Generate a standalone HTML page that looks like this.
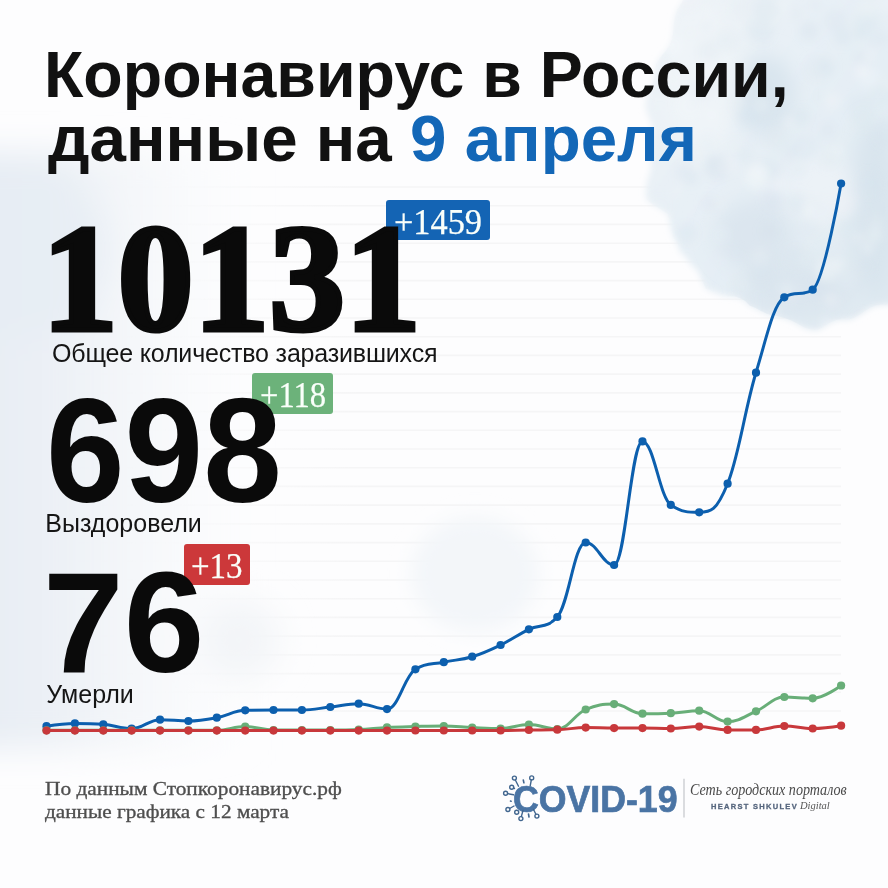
<!DOCTYPE html>
<html><head><meta charset="utf-8">
<style>
html,body{margin:0;padding:0;}
body{width:888px;height:888px;overflow:hidden;position:relative;background:#fdfdfe;font-family:"Liberation Sans",sans-serif;}
.abs{position:absolute;white-space:nowrap;}
.title{font-family:"Liberation Sans",sans-serif;font-weight:bold;font-size:65px;transform-origin:0 0;color:#111;line-height:1;}
.big{transform-origin:0 0;font-family:"Liberation Sans",sans-serif;font-weight:bold;color:#0a0a0a;line-height:1;}
.lbl{font-size:25px;color:#151515;line-height:1;}
.badge{color:#fff;border-radius:3px;}
.bt{position:absolute;font-family:"Liberation Serif",serif;font-size:35px;-webkit-text-stroke:0.25px #fafffa;transform:scaleX(0.96);transform-origin:0 0;line-height:1;color:#fafffa;}
.foot{font-family:"Liberation Serif",serif;font-size:18px;transform-origin:0 0;color:#4e4e4e;-webkit-text-stroke:0.3px #4e4e4e;line-height:1;}
</style></head><body>
<div class="abs" style="left:0;top:0;width:888px;height:888px;" id="bg"></div>
<svg width="888" height="888" style="position:absolute;left:0;top:0"><defs><linearGradient id="gg" gradientUnits="userSpaceOnUse" x1="170" y1="0" x2="360" y2="0"><stop offset="0" stop-color="#f3f3f4" stop-opacity="0.1"/><stop offset="1" stop-color="#f5f5f6"/></linearGradient></defs><g stroke="url(#gg)" stroke-width="1.6"><line x1="30" x2="841" y1="711.0" y2="711.0"/><line x1="30" x2="841" y1="692.3" y2="692.3"/><line x1="30" x2="841" y1="673.6" y2="673.6"/><line x1="30" x2="841" y1="654.9" y2="654.9"/><line x1="30" x2="841" y1="636.1" y2="636.1"/><line x1="30" x2="841" y1="617.4" y2="617.4"/><line x1="30" x2="841" y1="598.7" y2="598.7"/><line x1="30" x2="841" y1="580.0" y2="580.0"/><line x1="30" x2="841" y1="561.3" y2="561.3"/><line x1="30" x2="841" y1="542.6" y2="542.6"/><line x1="30" x2="841" y1="523.9" y2="523.9"/><line x1="30" x2="841" y1="505.1" y2="505.1"/><line x1="30" x2="841" y1="486.4" y2="486.4"/><line x1="30" x2="841" y1="467.7" y2="467.7"/><line x1="30" x2="841" y1="449.0" y2="449.0"/><line x1="30" x2="841" y1="430.3" y2="430.3"/><line x1="30" x2="841" y1="411.6" y2="411.6"/><line x1="30" x2="841" y1="392.9" y2="392.9"/><line x1="30" x2="841" y1="374.1" y2="374.1"/><line x1="30" x2="841" y1="355.4" y2="355.4"/><line x1="30" x2="841" y1="336.7" y2="336.7"/><line x1="30" x2="841" y1="318.0" y2="318.0"/><line x1="30" x2="841" y1="299.3" y2="299.3"/><line x1="30" x2="841" y1="280.6" y2="280.6"/><line x1="30" x2="841" y1="261.9" y2="261.9"/><line x1="30" x2="841" y1="243.2" y2="243.2"/><line x1="30" x2="841" y1="224.4" y2="224.4"/><line x1="30" x2="841" y1="205.7" y2="205.7"/><line x1="30" x2="841" y1="187.0" y2="187.0"/></g><defs>
<filter id="b1" x="-20%" y="-20%" width="140%" height="140%"><feGaussianBlur stdDeviation="3"/></filter>
<filter id="b2" x="-50%" y="-50%" width="200%" height="200%"><feGaussianBlur stdDeviation="16"/></filter>
<filter id="b3" x="-50%" y="-50%" width="200%" height="200%"><feGaussianBlur stdDeviation="10"/></filter>
<filter id="b4" x="-50%" y="-50%" width="200%" height="200%"><feGaussianBlur stdDeviation="4"/></filter>
<linearGradient id="cg" x1="0" y1="0" x2="1" y2="1"><stop offset="0" stop-color="#eff4f8"/><stop offset="0.5" stop-color="#e6eff5"/><stop offset="1" stop-color="#dfe9f1"/></linearGradient>
<clipPath id="cc"><path d="M689.0,-31.4 L687.3,-26.7 L686.3,-20.8 L685.8,-14.2 L685.4,-7.6 L684.6,-1.6 L681.0,3.9 L677.5,9.6 L675.0,16.2 L673.8,23.8 L673.3,31.8 L672.3,39.1 L670.3,44.9 L666.9,49.8 L662.7,54.4 L658.8,59.4 L655.8,64.9 L655.1,71.4 L654.2,77.8 L652.3,83.9 L649.6,89.9 L646.8,96.1 L645.3,102.6 L645.8,109.4 L648.3,116.2 L651.0,122.8 L652.6,129.1 L652.5,135.3 L651.4,141.6 L650.4,147.9 L650.2,154.2 L650.7,160.3 L650.8,166.5 L649.8,172.9 L647.3,179.9 L645.7,189.3 L645.8,198.3 L650.5,202.8 L656.5,206.6 L662.6,210.2 L668.0,214.0 L669.6,221.2 L670.7,228.6 L672.7,235.4 L675.5,240.7 L678.3,245.9 L679.9,252.0 L684.7,256.0 L688.7,261.2 L692.8,266.6 L697.9,270.9 L700.4,277.2 L703.3,282.8 L706.0,288.7 L712.8,291.4 L719.6,294.4 L726.9,296.3 L734.9,296.2 L740.3,298.3 L745.3,301.0 L749.6,305.5 L755.1,307.7 L760.5,310.8 L766.1,313.5 L772.0,315.3 L778.0,316.3 L784.7,317.9 L791.3,320.4 L798.0,324.1 L804.8,327.7 L811.7,329.8 L818.3,329.7 L824.5,325.9 L830.5,322.3 L836.5,320.0 L842.8,319.3 L849.3,319.4 L854.9,317.2 L860.2,314.2 L865.3,310.7 L870.5,307.5 L876.2,305.5 L882.5,304.7 L889.2,304.4 L896.0,303.0 L902.0,299.9 L906.9,295.2 L911.2,289.8 L910,-30 Z"/></clipPath>
</defs>
<g filter="url(#b1)"><path d="M689.0,-31.4 L687.3,-26.7 L686.3,-20.8 L685.8,-14.2 L685.4,-7.6 L684.6,-1.6 L681.0,3.9 L677.5,9.6 L675.0,16.2 L673.8,23.8 L673.3,31.8 L672.3,39.1 L670.3,44.9 L666.9,49.8 L662.7,54.4 L658.8,59.4 L655.8,64.9 L655.1,71.4 L654.2,77.8 L652.3,83.9 L649.6,89.9 L646.8,96.1 L645.3,102.6 L645.8,109.4 L648.3,116.2 L651.0,122.8 L652.6,129.1 L652.5,135.3 L651.4,141.6 L650.4,147.9 L650.2,154.2 L650.7,160.3 L650.8,166.5 L649.8,172.9 L647.3,179.9 L645.7,189.3 L645.8,198.3 L650.5,202.8 L656.5,206.6 L662.6,210.2 L668.0,214.0 L669.6,221.2 L670.7,228.6 L672.7,235.4 L675.5,240.7 L678.3,245.9 L679.9,252.0 L684.7,256.0 L688.7,261.2 L692.8,266.6 L697.9,270.9 L700.4,277.2 L703.3,282.8 L706.0,288.7 L712.8,291.4 L719.6,294.4 L726.9,296.3 L734.9,296.2 L740.3,298.3 L745.3,301.0 L749.6,305.5 L755.1,307.7 L760.5,310.8 L766.1,313.5 L772.0,315.3 L778.0,316.3 L784.7,317.9 L791.3,320.4 L798.0,324.1 L804.8,327.7 L811.7,329.8 L818.3,329.7 L824.5,325.9 L830.5,322.3 L836.5,320.0 L842.8,319.3 L849.3,319.4 L854.9,317.2 L860.2,314.2 L865.3,310.7 L870.5,307.5 L876.2,305.5 L882.5,304.7 L889.2,304.4 L896.0,303.0 L902.0,299.9 L906.9,295.2 L911.2,289.8 L910,-30 Z" fill="url(#cg)"/></g>
<g clip-path="url(#cc)"><g filter="url(#b3)">
<ellipse cx="765" cy="95" rx="30" ry="40" fill="#d9e5ee"/>
<ellipse cx="755" cy="235" rx="40" ry="35" fill="#dce6ef"/>
<ellipse cx="800" cy="290" rx="55" ry="30" fill="#dbe6ef"/>
<ellipse cx="875" cy="210" rx="25" ry="90" fill="#d9e5ee"/>
<ellipse cx="700" cy="80" rx="40" ry="80" fill="#eff4f8"/>
<ellipse cx="820" cy="190" rx="35" ry="35" fill="#ecf2f7"/>
</g>
<g filter="url(#b4)"><circle cx="727" cy="41" r="10.2" fill="#d6e3ee" opacity="0.28"/><circle cx="664" cy="163" r="3.4" fill="#f2f6f9" opacity="0.26"/><circle cx="781" cy="10" r="9.2" fill="#f2f6f9" opacity="0.34"/><circle cx="744" cy="322" r="3.5" fill="#f6f9fb" opacity="0.30"/><circle cx="779" cy="184" r="9.2" fill="#f2f6f9" opacity="0.34"/><circle cx="802" cy="117" r="9.0" fill="#d6e3ee" opacity="0.33"/><circle cx="768" cy="171" r="11.5" fill="#d3e0ec" opacity="0.27"/><circle cx="709" cy="51" r="11.6" fill="#dde8f0" opacity="0.30"/><circle cx="858" cy="238" r="6.2" fill="#f2f6f9" opacity="0.33"/><circle cx="689" cy="106" r="13.3" fill="#f2f6f9" opacity="0.39"/><circle cx="786" cy="288" r="6.5" fill="#e9f0f5" opacity="0.34"/><circle cx="759" cy="276" r="13.4" fill="#d6e3ee" opacity="0.21"/><circle cx="817" cy="210" r="13.9" fill="#f6f9fb" opacity="0.38"/><circle cx="861" cy="108" r="13.3" fill="#d6e3ee" opacity="0.30"/><circle cx="702" cy="88" r="11.1" fill="#d3e0ec" opacity="0.21"/><circle cx="757" cy="177" r="12.7" fill="#f6f9fb" opacity="0.38"/><circle cx="885" cy="222" r="7.2" fill="#d6e3ee" opacity="0.23"/><circle cx="705" cy="69" r="8.3" fill="#f6f9fb" opacity="0.27"/><circle cx="685" cy="172" r="9.7" fill="#dae6ef" opacity="0.34"/><circle cx="773" cy="200" r="10.4" fill="#d3e0ec" opacity="0.28"/><circle cx="744" cy="154" r="7.4" fill="#dae6ef" opacity="0.29"/><circle cx="676" cy="194" r="4.1" fill="#f2f6f9" opacity="0.43"/><circle cx="796" cy="14" r="5.3" fill="#dde8f0" opacity="0.39"/><circle cx="793" cy="151" r="4.3" fill="#d3e0ec" opacity="0.29"/><circle cx="724" cy="39" r="11.2" fill="#e9f0f5" opacity="0.41"/><circle cx="688" cy="-2" r="13.5" fill="#eef3f7" opacity="0.38"/><circle cx="868" cy="248" r="6.3" fill="#f2f6f9" opacity="0.38"/><circle cx="712" cy="115" r="4.8" fill="#f6f9fb" opacity="0.36"/><circle cx="796" cy="258" r="11.3" fill="#dae6ef" opacity="0.36"/><circle cx="826" cy="67" r="8.7" fill="#d6e3ee" opacity="0.40"/><circle cx="838" cy="151" r="5.1" fill="#f6f9fb" opacity="0.31"/><circle cx="873" cy="326" r="13.5" fill="#dae6ef" opacity="0.22"/><circle cx="762" cy="105" r="8.3" fill="#f2f6f9" opacity="0.32"/><circle cx="805" cy="262" r="3.9" fill="#e9f0f5" opacity="0.40"/><circle cx="829" cy="153" r="5.0" fill="#f6f9fb" opacity="0.22"/><circle cx="875" cy="235" r="8.1" fill="#f2f6f9" opacity="0.38"/><circle cx="690" cy="33" r="4.7" fill="#eef3f7" opacity="0.35"/><circle cx="792" cy="151" r="13.3" fill="#dae6ef" opacity="0.20"/><circle cx="840" cy="237" r="4.1" fill="#eef3f7" opacity="0.31"/><circle cx="857" cy="271" r="5.3" fill="#dde8f0" opacity="0.30"/><circle cx="832" cy="101" r="9.0" fill="#f2f6f9" opacity="0.43"/><circle cx="734" cy="146" r="9.4" fill="#e9f0f5" opacity="0.41"/><circle cx="859" cy="34" r="4.7" fill="#d3e0ec" opacity="0.35"/><circle cx="795" cy="254" r="4.6" fill="#d6e3ee" opacity="0.31"/><circle cx="728" cy="166" r="9.1" fill="#f2f6f9" opacity="0.42"/><circle cx="664" cy="55" r="3.5" fill="#d3e0ec" opacity="0.31"/><circle cx="831" cy="300" r="7.9" fill="#eef3f7" opacity="0.38"/><circle cx="758" cy="171" r="8.3" fill="#f6f9fb" opacity="0.43"/><circle cx="862" cy="59" r="7.9" fill="#d3e0ec" opacity="0.29"/><circle cx="667" cy="72" r="3.8" fill="#f2f6f9" opacity="0.42"/><circle cx="687" cy="233" r="10.3" fill="#dae6ef" opacity="0.40"/><circle cx="702" cy="314" r="7.4" fill="#eef3f7" opacity="0.24"/><circle cx="753" cy="165" r="6.7" fill="#dde8f0" opacity="0.22"/><circle cx="737" cy="105" r="8.0" fill="#e9f0f5" opacity="0.28"/><circle cx="798" cy="164" r="3.7" fill="#eef3f7" opacity="0.45"/><circle cx="675" cy="80" r="3.4" fill="#f6f9fb" opacity="0.39"/><circle cx="845" cy="279" r="10.4" fill="#e9f0f5" opacity="0.23"/><circle cx="869" cy="184" r="10.7" fill="#d6e3ee" opacity="0.36"/><circle cx="694" cy="294" r="6.0" fill="#d6e3ee" opacity="0.36"/><circle cx="670" cy="281" r="3.7" fill="#e9f0f5" opacity="0.20"/><circle cx="887" cy="132" r="13.1" fill="#d6e3ee" opacity="0.30"/><circle cx="707" cy="27" r="4.8" fill="#dae6ef" opacity="0.39"/><circle cx="800" cy="171" r="5.3" fill="#dae6ef" opacity="0.26"/><circle cx="841" cy="328" r="3.4" fill="#dae6ef" opacity="0.30"/><circle cx="708" cy="142" r="10.2" fill="#e9f0f5" opacity="0.34"/><circle cx="862" cy="320" r="6.4" fill="#dae6ef" opacity="0.27"/><circle cx="848" cy="230" r="10.0" fill="#dde8f0" opacity="0.40"/><circle cx="849" cy="-5" r="9.9" fill="#e9f0f5" opacity="0.24"/><circle cx="670" cy="276" r="12.6" fill="#f6f9fb" opacity="0.35"/><circle cx="815" cy="5" r="5.0" fill="#d6e3ee" opacity="0.26"/><circle cx="879" cy="321" r="9.0" fill="#dde8f0" opacity="0.24"/><circle cx="694" cy="104" r="3.9" fill="#dae6ef" opacity="0.25"/><circle cx="835" cy="21" r="12.0" fill="#d6e3ee" opacity="0.28"/><circle cx="721" cy="204" r="3.9" fill="#eef3f7" opacity="0.36"/><circle cx="820" cy="289" r="7.3" fill="#d3e0ec" opacity="0.23"/><circle cx="822" cy="209" r="3.5" fill="#e9f0f5" opacity="0.39"/><circle cx="843" cy="37" r="8.8" fill="#d6e3ee" opacity="0.36"/><circle cx="789" cy="294" r="10.5" fill="#eef3f7" opacity="0.22"/><circle cx="660" cy="207" r="13.6" fill="#e9f0f5" opacity="0.34"/><circle cx="799" cy="203" r="10.5" fill="#d6e3ee" opacity="0.29"/><circle cx="667" cy="307" r="12.9" fill="#d6e3ee" opacity="0.35"/><circle cx="763" cy="265" r="12.3" fill="#dae6ef" opacity="0.24"/><circle cx="805" cy="147" r="12.3" fill="#dde8f0" opacity="0.35"/><circle cx="797" cy="209" r="3.9" fill="#dde8f0" opacity="0.33"/><circle cx="815" cy="201" r="4.5" fill="#d3e0ec" opacity="0.26"/><circle cx="810" cy="225" r="10.4" fill="#dde8f0" opacity="0.29"/><circle cx="761" cy="30" r="12.8" fill="#d6e3ee" opacity="0.39"/><circle cx="654" cy="146" r="12.0" fill="#e9f0f5" opacity="0.45"/><circle cx="742" cy="302" r="13.2" fill="#d6e3ee" opacity="0.23"/><circle cx="775" cy="314" r="4.5" fill="#f6f9fb" opacity="0.42"/><circle cx="817" cy="69" r="12.9" fill="#d6e3ee" opacity="0.23"/><circle cx="876" cy="222" r="7.5" fill="#e9f0f5" opacity="0.28"/><circle cx="725" cy="276" r="3.0" fill="#e9f0f5" opacity="0.23"/><circle cx="870" cy="232" r="12.9" fill="#dde8f0" opacity="0.21"/><circle cx="743" cy="286" r="3.8" fill="#f6f9fb" opacity="0.41"/><circle cx="717" cy="8" r="10.3" fill="#eef3f7" opacity="0.26"/><circle cx="713" cy="164" r="5.1" fill="#d3e0ec" opacity="0.38"/><circle cx="843" cy="205" r="13.0" fill="#eef3f7" opacity="0.38"/><circle cx="662" cy="239" r="8.0" fill="#f6f9fb" opacity="0.32"/><circle cx="867" cy="177" r="4.9" fill="#dde8f0" opacity="0.26"/><circle cx="826" cy="322" r="5.9" fill="#f6f9fb" opacity="0.32"/><circle cx="809" cy="31" r="10.1" fill="#d3e0ec" opacity="0.31"/><circle cx="758" cy="103" r="11.4" fill="#dae6ef" opacity="0.25"/><circle cx="692" cy="179" r="6.5" fill="#dae6ef" opacity="0.38"/><circle cx="828" cy="130" r="7.6" fill="#d3e0ec" opacity="0.26"/><circle cx="829" cy="159" r="9.3" fill="#dae6ef" opacity="0.22"/><circle cx="863" cy="121" r="10.1" fill="#dde8f0" opacity="0.37"/><circle cx="858" cy="-3" r="3.4" fill="#e9f0f5" opacity="0.44"/><circle cx="767" cy="15" r="13.2" fill="#e9f0f5" opacity="0.45"/><circle cx="709" cy="27" r="4.7" fill="#f2f6f9" opacity="0.43"/><circle cx="822" cy="210" r="11.4" fill="#d6e3ee" opacity="0.20"/><circle cx="680" cy="184" r="3.4" fill="#eef3f7" opacity="0.35"/><circle cx="776" cy="139" r="11.4" fill="#dde8f0" opacity="0.30"/><circle cx="789" cy="122" r="5.5" fill="#f2f6f9" opacity="0.34"/><circle cx="887" cy="85" r="6.5" fill="#eef3f7" opacity="0.32"/><circle cx="706" cy="74" r="13.6" fill="#f6f9fb" opacity="0.21"/><circle cx="696" cy="291" r="10.1" fill="#dae6ef" opacity="0.34"/><circle cx="870" cy="67" r="3.4" fill="#d3e0ec" opacity="0.27"/><circle cx="744" cy="-8" r="6.2" fill="#f2f6f9" opacity="0.25"/><circle cx="881" cy="96" r="12.0" fill="#dae6ef" opacity="0.26"/><circle cx="862" cy="27" r="9.9" fill="#dae6ef" opacity="0.29"/><circle cx="867" cy="9" r="9.5" fill="#f2f6f9" opacity="0.26"/><circle cx="882" cy="38" r="3.6" fill="#d3e0ec" opacity="0.29"/><circle cx="819" cy="97" r="4.2" fill="#dae6ef" opacity="0.27"/><circle cx="694" cy="308" r="11.2" fill="#d3e0ec" opacity="0.37"/><circle cx="884" cy="140" r="4.2" fill="#d6e3ee" opacity="0.27"/><circle cx="877" cy="32" r="13.6" fill="#dde8f0" opacity="0.35"/><circle cx="723" cy="263" r="4.0" fill="#eef3f7" opacity="0.29"/><circle cx="869" cy="56" r="7.0" fill="#f2f6f9" opacity="0.36"/><circle cx="709" cy="203" r="7.5" fill="#d3e0ec" opacity="0.21"/><circle cx="869" cy="77" r="11.2" fill="#f6f9fb" opacity="0.29"/><circle cx="730" cy="314" r="3.5" fill="#f6f9fb" opacity="0.43"/><circle cx="721" cy="235" r="9.6" fill="#f2f6f9" opacity="0.20"/><circle cx="706" cy="152" r="13.5" fill="#e9f0f5" opacity="0.40"/><circle cx="867" cy="267" r="4.5" fill="#d6e3ee" opacity="0.36"/><circle cx="826" cy="270" r="11.5" fill="#f6f9fb" opacity="0.41"/><circle cx="760" cy="257" r="9.6" fill="#e9f0f5" opacity="0.39"/><circle cx="709" cy="12" r="3.4" fill="#f6f9fb" opacity="0.24"/><circle cx="752" cy="26" r="3.8" fill="#eef3f7" opacity="0.23"/><circle cx="769" cy="231" r="7.9" fill="#d3e0ec" opacity="0.29"/><circle cx="862" cy="70" r="8.9" fill="#f2f6f9" opacity="0.40"/><circle cx="720" cy="85" r="5.9" fill="#dde8f0" opacity="0.24"/><circle cx="709" cy="73" r="4.7" fill="#eef3f7" opacity="0.28"/><circle cx="744" cy="327" r="8.6" fill="#d6e3ee" opacity="0.33"/><circle cx="886" cy="25" r="8.2" fill="#e9f0f5" opacity="0.43"/><circle cx="660" cy="90" r="4.3" fill="#dae6ef" opacity="0.39"/><circle cx="739" cy="284" r="7.9" fill="#d6e3ee" opacity="0.22"/><circle cx="792" cy="201" r="5.4" fill="#dae6ef" opacity="0.21"/><circle cx="888" cy="3" r="11.1" fill="#f2f6f9" opacity="0.41"/><circle cx="747" cy="116" r="9.8" fill="#d6e3ee" opacity="0.36"/><circle cx="780" cy="12" r="4.1" fill="#dae6ef" opacity="0.33"/><circle cx="672" cy="46" r="10.6" fill="#f6f9fb" opacity="0.36"/><circle cx="749" cy="7" r="11.2" fill="#e9f0f5" opacity="0.30"/><circle cx="856" cy="329" r="7.0" fill="#d3e0ec" opacity="0.24"/><circle cx="651" cy="297" r="7.7" fill="#e9f0f5" opacity="0.34"/><circle cx="737" cy="253" r="4.4" fill="#dae6ef" opacity="0.33"/><circle cx="867" cy="20" r="9.8" fill="#dae6ef" opacity="0.23"/><circle cx="717" cy="167" r="13.2" fill="#d3e0ec" opacity="0.35"/><circle cx="839" cy="264" r="6.3" fill="#f2f6f9" opacity="0.45"/><circle cx="765" cy="8" r="13.2" fill="#dae6ef" opacity="0.33"/></g></g>
<linearGradient id="lg" x1="0" y1="0" x2="1" y2="0"><stop offset="0" stop-color="#e6ecf3"/><stop offset="0.35" stop-color="#edf1f6"/><stop offset="1" stop-color="#f7f9fb" stop-opacity="0"/></linearGradient>
<g filter="url(#b2)">
<rect x="-40" y="150" width="300" height="600" fill="url(#lg)"/>
<ellipse cx="20" cy="250" rx="90" ry="90" fill="#e6ecf3" opacity="0.7"/>
<ellipse cx="240" cy="640" rx="40" ry="40" fill="#f3f5f8"/>
</g>
<g filter="url(#b3)"><ellipse cx="475" cy="574" rx="64" ry="58" fill="#f3f6f9"/></g>
<path d="M46.50,726.20 C46.50,726.20 63.53,723.40 74.88,723.40 C86.23,723.40 91.91,723.40 103.26,724.30 C114.61,725.20 120.28,728.70 131.64,728.70 C142.99,728.70 148.66,719.70 160.01,719.70 C171.37,719.70 177.04,721.00 188.39,721.00 C199.74,721.00 205.42,719.84 216.77,717.70 C228.12,715.56 233.80,710.60 245.15,710.30 C256.50,710.00 262.18,710.00 273.53,710.00 C284.88,710.00 290.56,710.00 301.91,710.00 C313.26,710.00 318.93,708.26 330.29,707.00 C341.64,705.74 347.31,703.70 358.66,703.70 C370.02,703.70 375.69,709.10 387.04,709.10 C398.39,709.10 404.07,676.40 415.42,669.30 C426.77,662.20 432.45,664.72 443.80,662.20 C455.15,659.68 460.83,660.14 472.18,656.70 C483.53,653.26 489.21,650.48 500.56,645.00 C511.91,639.52 517.58,634.90 528.94,629.30 C540.29,623.70 545.96,629.30 557.31,617.00 C568.67,604.70 574.34,542.50 585.69,542.50 C597.04,542.50 602.72,565.00 614.07,565.00 C625.42,565.00 631.10,441.40 642.45,441.40 C653.80,441.40 659.48,497.50 670.83,504.90 C682.18,512.30 687.86,512.30 699.21,512.30 C710.56,512.30 716.23,511.62 727.59,483.70 C738.94,455.78 744.61,409.98 755.96,372.70 C767.32,335.42 772.99,304.90 784.34,297.30 C795.69,289.70 801.37,297.30 812.72,289.70 C824.07,282.10 841.10,183.50 841.10,183.50" fill="none" stroke="#0c5fae" stroke-width="3" stroke-linejoin="round"/><g fill="#0c5fae"><circle cx="46.5" cy="726.2" r="4.1"/><circle cx="74.9" cy="723.4" r="4.1"/><circle cx="103.3" cy="724.3" r="4.1"/><circle cx="131.6" cy="728.7" r="4.1"/><circle cx="160.0" cy="719.7" r="4.1"/><circle cx="188.4" cy="721.0" r="4.1"/><circle cx="216.8" cy="717.7" r="4.1"/><circle cx="245.2" cy="710.3" r="4.1"/><circle cx="273.5" cy="710.0" r="4.1"/><circle cx="301.9" cy="710.0" r="4.1"/><circle cx="330.3" cy="707.0" r="4.1"/><circle cx="358.7" cy="703.7" r="4.1"/><circle cx="387.0" cy="709.1" r="4.1"/><circle cx="415.4" cy="669.3" r="4.1"/><circle cx="443.8" cy="662.2" r="4.1"/><circle cx="472.2" cy="656.7" r="4.1"/><circle cx="500.6" cy="645.0" r="4.1"/><circle cx="528.9" cy="629.3" r="4.1"/><circle cx="557.3" cy="617.0" r="4.1"/><circle cx="585.7" cy="542.5" r="4.1"/><circle cx="614.1" cy="565.0" r="4.1"/><circle cx="642.5" cy="441.4" r="4.1"/><circle cx="670.8" cy="504.9" r="4.1"/><circle cx="699.2" cy="512.3" r="4.1"/><circle cx="727.6" cy="483.7" r="4.1"/><circle cx="756.0" cy="372.7" r="4.1"/><circle cx="784.3" cy="297.3" r="4.1"/><circle cx="812.7" cy="289.7" r="4.1"/><circle cx="841.1" cy="183.5" r="4.1"/></g><path d="M46.50,730.30 C46.50,730.30 63.53,730.30 74.88,730.30 C86.23,730.30 91.91,730.30 103.26,730.30 C114.61,730.30 120.28,730.30 131.64,730.30 C142.99,730.30 148.66,730.30 160.01,730.30 C171.37,730.30 177.04,730.30 188.39,730.30 C199.74,730.30 205.42,730.30 216.77,730.30 C228.12,730.30 233.80,726.50 245.15,726.50 C256.50,726.50 262.18,730.00 273.53,730.00 C284.88,730.00 290.56,730.00 301.91,730.00 C313.26,730.00 318.93,730.00 330.29,730.00 C341.64,730.00 347.31,730.00 358.66,729.50 C370.02,729.00 375.69,728.00 387.04,727.40 C398.39,726.80 404.07,726.78 415.42,726.50 C426.77,726.22 432.45,726.00 443.80,726.00 C455.15,726.00 460.83,727.00 472.18,727.50 C483.53,728.00 489.21,728.50 500.56,728.50 C511.91,728.50 517.58,724.50 528.94,724.50 C540.29,724.50 545.96,729.00 557.31,729.00 C568.67,729.00 574.34,714.48 585.69,709.50 C597.04,704.52 602.72,704.10 614.07,704.10 C625.42,704.10 631.10,713.70 642.45,713.70 C653.80,713.70 659.48,713.70 670.83,713.20 C682.18,712.70 687.86,710.70 699.21,710.70 C710.56,710.70 716.23,721.60 727.59,721.60 C738.94,721.60 744.61,716.22 755.96,711.30 C767.32,706.38 772.99,697.00 784.34,697.00 C795.69,697.00 801.37,698.30 812.72,698.30 C824.07,698.30 841.10,685.50 841.10,685.50" fill="none" stroke="#68ae78" stroke-width="3" stroke-linejoin="round"/><g fill="#68ae78"><circle cx="46.5" cy="730.3" r="4.1"/><circle cx="74.9" cy="730.3" r="4.1"/><circle cx="103.3" cy="730.3" r="4.1"/><circle cx="131.6" cy="730.3" r="4.1"/><circle cx="160.0" cy="730.3" r="4.1"/><circle cx="188.4" cy="730.3" r="4.1"/><circle cx="216.8" cy="730.3" r="4.1"/><circle cx="245.2" cy="726.5" r="4.1"/><circle cx="273.5" cy="730.0" r="4.1"/><circle cx="301.9" cy="730.0" r="4.1"/><circle cx="330.3" cy="730.0" r="4.1"/><circle cx="358.7" cy="729.5" r="4.1"/><circle cx="387.0" cy="727.4" r="4.1"/><circle cx="415.4" cy="726.5" r="4.1"/><circle cx="443.8" cy="726.0" r="4.1"/><circle cx="472.2" cy="727.5" r="4.1"/><circle cx="500.6" cy="728.5" r="4.1"/><circle cx="528.9" cy="724.5" r="4.1"/><circle cx="557.3" cy="729.0" r="4.1"/><circle cx="585.7" cy="709.5" r="4.1"/><circle cx="614.1" cy="704.1" r="4.1"/><circle cx="642.5" cy="713.7" r="4.1"/><circle cx="670.8" cy="713.2" r="4.1"/><circle cx="699.2" cy="710.7" r="4.1"/><circle cx="727.6" cy="721.6" r="4.1"/><circle cx="756.0" cy="711.3" r="4.1"/><circle cx="784.3" cy="697.0" r="4.1"/><circle cx="812.7" cy="698.3" r="4.1"/><circle cx="841.1" cy="685.5" r="4.1"/></g><path d="M46.50,730.60 C46.50,730.60 63.53,730.60 74.88,730.60 C86.23,730.60 91.91,730.60 103.26,730.60 C114.61,730.60 120.28,730.60 131.64,730.60 C142.99,730.60 148.66,730.60 160.01,730.60 C171.37,730.60 177.04,730.60 188.39,730.60 C199.74,730.60 205.42,730.60 216.77,730.60 C228.12,730.60 233.80,730.60 245.15,730.60 C256.50,730.60 262.18,730.60 273.53,730.60 C284.88,730.60 290.56,730.60 301.91,730.60 C313.26,730.60 318.93,730.60 330.29,730.60 C341.64,730.60 347.31,730.60 358.66,730.60 C370.02,730.60 375.69,730.60 387.04,730.60 C398.39,730.60 404.07,730.50 415.42,730.50 C426.77,730.50 432.45,730.50 443.80,730.50 C455.15,730.50 460.83,730.50 472.18,730.50 C483.53,730.50 489.21,730.50 500.56,730.50 C511.91,730.50 517.58,730.16 528.94,730.00 C540.29,729.84 545.96,730.00 557.31,729.70 C568.67,729.40 574.34,727.60 585.69,727.60 C597.04,727.60 602.72,728.10 614.07,728.10 C625.42,728.10 631.10,728.10 642.45,728.10 C653.80,728.10 659.48,728.50 670.83,728.50 C682.18,728.50 687.86,726.60 699.21,726.60 C710.56,726.60 716.23,729.90 727.59,729.90 C738.94,729.90 744.61,729.90 755.96,729.90 C767.32,729.90 772.99,726.00 784.34,726.00 C795.69,726.00 801.37,728.50 812.72,728.50 C824.07,728.50 841.10,725.70 841.10,725.70" fill="none" stroke="#c8383b" stroke-width="3" stroke-linejoin="round"/><g fill="#c8383b"><circle cx="46.5" cy="730.6" r="4.1"/><circle cx="74.9" cy="730.6" r="4.1"/><circle cx="103.3" cy="730.6" r="4.1"/><circle cx="131.6" cy="730.6" r="4.1"/><circle cx="160.0" cy="730.6" r="4.1"/><circle cx="188.4" cy="730.6" r="4.1"/><circle cx="216.8" cy="730.6" r="4.1"/><circle cx="245.2" cy="730.6" r="4.1"/><circle cx="273.5" cy="730.6" r="4.1"/><circle cx="301.9" cy="730.6" r="4.1"/><circle cx="330.3" cy="730.6" r="4.1"/><circle cx="358.7" cy="730.6" r="4.1"/><circle cx="387.0" cy="730.6" r="4.1"/><circle cx="415.4" cy="730.5" r="4.1"/><circle cx="443.8" cy="730.5" r="4.1"/><circle cx="472.2" cy="730.5" r="4.1"/><circle cx="500.6" cy="730.5" r="4.1"/><circle cx="528.9" cy="730.0" r="4.1"/><circle cx="557.3" cy="729.7" r="4.1"/><circle cx="585.7" cy="727.6" r="4.1"/><circle cx="614.1" cy="728.1" r="4.1"/><circle cx="642.5" cy="728.1" r="4.1"/><circle cx="670.8" cy="728.5" r="4.1"/><circle cx="699.2" cy="726.6" r="4.1"/><circle cx="727.6" cy="729.9" r="4.1"/><circle cx="756.0" cy="729.9" r="4.1"/><circle cx="784.3" cy="726.0" r="4.1"/><circle cx="812.7" cy="728.5" r="4.1"/><circle cx="841.1" cy="725.7" r="4.1"/></g></svg>
<div class="abs title" style="left:43.6px;top:42.4px;transform:scaleX(0.992);">Коронавирус в России,</div>
<div class="abs title" style="left:47.6px;top:106.3px;transform:scaleX(1.008);">данные на <span style="color:#1367b7">9 апреля</span></div>

<div class="abs badge" style="left:386px;top:200px;width:103.5px;height:40px;background:#1464b4;"><span class="bt" style="left:8px;top:4.5px;transform:scaleX(0.981)">+1459</span></div>
<div class="abs big" style="left:42px;top:201.5px;transform:scaleX(0.99);-webkit-text-stroke:5px #0a0a0a;font-size:153px;font-family:'Liberation Serif',serif;">10131</div>
<div class="abs lbl" style="left:52px;top:341px;letter-spacing:-0.18px;">Общее количество заразившихся</div>

<div class="abs badge" style="left:252.4px;top:373px;width:80.5px;height:40.5px;background:#6cb27a;"><span class="bt" style="left:7.7px;top:5px;transform:scaleX(0.931)">+118</span></div>
<div class="abs big" style="left:45.9px;top:377.3px;font-size:148px;transform:scaleX(0.955);">698</div>
<div class="abs lbl" style="left:45.3px;top:510.6px;">Выздоровели</div>

<div class="abs badge" style="left:184px;top:544px;width:66px;height:41px;background:#cc383a;"><span class="bt" style="left:7px;top:4.7px;transform:scaleX(0.942)">+13</span></div>
<div class="abs big" style="left:43.3px;top:551px;font-size:143px;transform:scaleX(1.015);">76</div>
<div class="abs lbl" style="left:46.3px;top:681.6px;">Умерли</div>

<div class="abs foot" style="left:45.1px;top:780px;transform:scaleX(1.185);">По данным Стопкоронавирус.рф</div>
<div class="abs foot" style="left:45.1px;top:802.9px;transform:scaleX(1.18);">данные графика с 12 марта</div>

<div class="abs logo" style="left:512.5px;top:781.5px;font-family:'Liberation Sans',sans-serif;font-weight:bold;font-size:36px;line-height:1;color:#4a74a4;transform-origin:0 0;transform:scaleX(0.991);-webkit-text-stroke:0.7px #4a74a4;">COVID-19</div>
<svg class="abs" style="left:0;top:0;" width="888" height="888"><g stroke="#41668f" stroke-width="1.4" fill="none" stroke-linecap="round">
<line x1="518.5" y1="786.2" x2="515.2" y2="779.8"/><circle cx="514.4" cy="778.1" r="2"/>
<line x1="530.2" y1="785.8" x2="531.3" y2="780"/><circle cx="531.7" cy="777.9" r="2"/>
<line x1="514.5" y1="788.5" x2="513.5" y2="788"/><circle cx="511.7" cy="787.3" r="2"/>
<line x1="513.5" y1="794.8" x2="507.6" y2="793.6"/><circle cx="505.6" cy="793.2" r="2"/>
<line x1="514" y1="806" x2="509.6" y2="808.5"/><circle cx="507.9" cy="809.5" r="2"/>
<circle cx="516.7" cy="812.2" r="2"/>
<line x1="523" y1="810.5" x2="521.3" y2="816.6"/><circle cx="520.9" cy="818.6" r="2"/>
<line x1="533.5" y1="809.5" x2="535.9" y2="814.3"/><circle cx="536.9" cy="816.1" r="2"/>
<line x1="523.3" y1="780" x2="523.9" y2="782.8" stroke-width="1.6"/>
<line x1="510.5" y1="801" x2="511.1" y2="801.2" stroke-width="1.6"/>
<line x1="528.5" y1="814" x2="529" y2="817" stroke-width="1.6"/>
</g>
<line x1="684" y1="778.7" x2="684" y2="817.5" stroke="#c4c6ca" stroke-width="1.2"/>
</svg>
<div class="abs logo" style="left:690px;top:782px;font-family:'Liberation Serif',serif;font-style:italic;font-size:16px;line-height:1;color:#4a4a4a;transform-origin:0 0;transform:scaleX(0.88);">Сеть городских порталов</div>
<div class="abs logo" style="left:711px;top:803px;font-family:'Liberation Sans',sans-serif;font-weight:bold;font-size:7.5px;letter-spacing:1.3px;line-height:1;color:#56667e;-webkit-text-stroke:0.3px #56667e;transform-origin:0 0;">HEARST SHKULEV</div>
<div class="abs logo" style="left:800px;top:801px;font-family:'Liberation Serif',serif;font-style:italic;font-size:10.5px;line-height:1;color:#555;transform-origin:0 0;">Digital</div>
</body></html>
